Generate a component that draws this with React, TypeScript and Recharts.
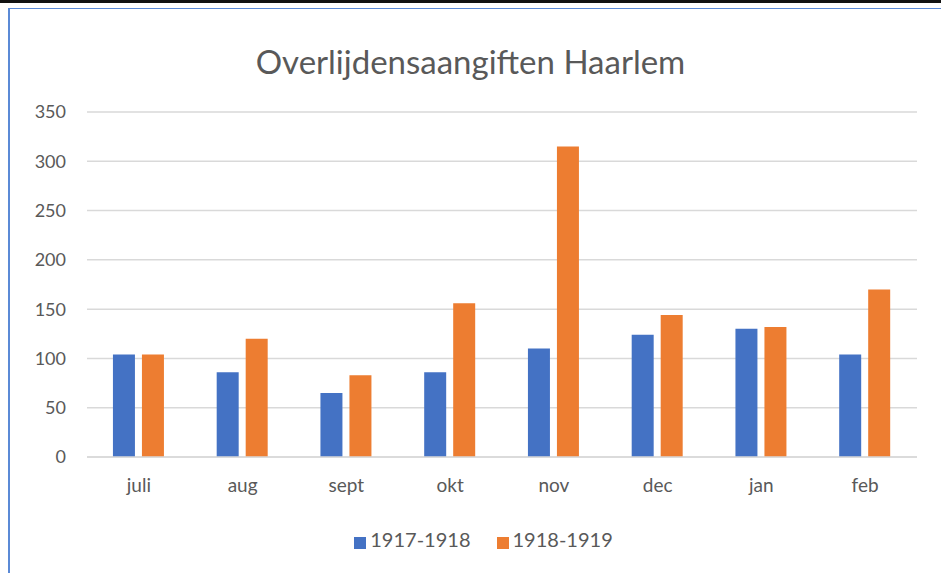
import React from 'react';
import {
  BarChart,
  Bar,
  XAxis,
  YAxis,
  CartesianGrid,
  Legend,
} from 'recharts';

const MONTHS = ['juli', 'aug', 'sept', 'okt', 'nov', 'dec', 'jan', 'feb'];
const Y1917 = [104, 86, 65, 86, 110, 124, 130, 104];
const Y1918 = [104, 120, 83, 156, 315, 144, 132, 170];
const Y_TICKS = [0, 50, 100, 150, 200, 250, 300, 350];

const BLUE = '#4472C4';
const ORANGE = '#ED7D31';
const TEXT = '#595959';
const FONT = 'Lato, "Open Sans", sans-serif';

const data = MONTHS.map((m, i) => ({
  month: m,
  '1917-1918': Y1917[i],
  '1918-1919': Y1918[i],
}));

export default function App() {
  return (
    <div
      style={{
        position: 'absolute',
        left: 0,
        top: 0,
        width: 941,
        height: 573,
        background: '#fff',
        borderTop: '3px solid #111',
        boxSizing: 'border-box',
        fontFamily: FONT,
        overflow: 'hidden',
      }}
    >
      <div
        style={{
          position: 'absolute',
          left: 8,
          top: 5,
          width: 933,
          height: 568,
          borderLeft: '2px solid #5b8ad6',
          borderTop: '1px solid #5b8ad6',
        }}
      />
      <div
        style={{
          position: 'absolute',
          left: 0,
          top: 38,
          width: 941,
          textAlign: 'center',
          fontSize: 33,
          color: TEXT,
        }}
      >
        Overlijdensaangiften Haarlem
      </div>
      <div style={{ position: 'absolute', left: 0, top: -3 }}>
        <BarChart
          width={941}
          height={573}
          data={data}
          margin={{ top: 112, right: 24, bottom: 62, left: 0 }}
          barCategoryGap="25%"
          barGap={7}
        >
          <CartesianGrid vertical={false} stroke="#d9d9d9" strokeWidth={1.5} />
          <XAxis
            dataKey="month"
            axisLine={{ stroke: '#d9d9d9', strokeWidth: 1.5 }}
            tickLine={false}
            tick={{ fill: TEXT, fontSize: 19, fontFamily: FONT }}
            tickMargin={16}
          />
          <YAxis
            width={87}
            domain={[0, 350]}
            ticks={Y_TICKS}
            axisLine={false}
            tickLine={false}
            tickSize={0}
            tickMargin={21}
            tick={{ fill: TEXT, fontSize: 18, fontFamily: FONT }}
          />
          <Legend
            iconType="square"
            iconSize={12}
            wrapperStyle={{ top: 527, left: 26, width: 941 }}
            formatter={(value) => (
              <span style={{ color: TEXT, fontSize: 20, fontFamily: FONT, marginRight: 16 }}>
                {value}
              </span>
            )}
          />
          <Bar dataKey="1917-1918" fill={BLUE} isAnimationActive={false} />
          <Bar dataKey="1918-1919" fill={ORANGE} isAnimationActive={false} />
        </BarChart>
      </div>
    </div>
  );
}
